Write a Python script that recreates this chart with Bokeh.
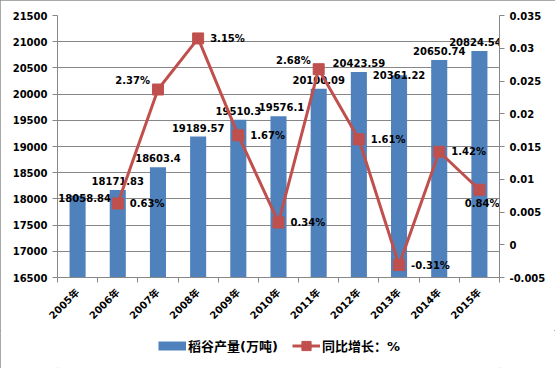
import math
from bokeh.plotting import figure
from bokeh.layouts import column
from bokeh.models import (Range1d, LinearAxis, FixedTicker, Legend, LegendItem,
                          ColumnDataSource, CustomJSTickFormatter)
from bokeh.core.properties import value
from bokeh.embed import file_html
from bokeh.resources import INLINE

# ---- data ----
years = ["2005年", "2006年", "2007年", "2008年", "2009年", "2010年",
         "2011年", "2012年", "2013年", "2014年", "2015年"]
rice_output = [18058.84, 18171.83, 18603.4, 19189.57, 19510.3, 19576.1,
               20100.09, 20423.59, 20361.22, 20650.74, 20824.54]
growth_years = ["2006年", "2007年", "2008年", "2009年", "2010年",
                "2011年", "2012年", "2013年", "2014年", "2015年"]
growth_pct = [0.63, 2.37, 3.15, 1.67, 0.34, 2.68, 1.61, -0.31, 1.42, 0.84]
left_ticks = [16500, 17000, 17500, 18000, 18500, 19000, 19500, 20000, 20500, 21000, 21500]
right_ticks = [-0.005, 0, 0.005, 0.01, 0.015, 0.02, 0.025, 0.03, 0.035]
legend_labels = ["稻谷产量(万吨)", "同比增长：%"]

# ---- label styling (not data) ----
bar_label_lift = [-2, 9, 9, 9, 9, 9, 9, 9, 0, 9, 9]
bar_label_shift = [7, 0, 0, 0, 0, 3, 0, 0, 0, 0, -4]
pct_label_pos = ["right", "left", "right", "right", "right",
                 "left", "right", "right", "right", "below"]

BAR = "#4F81BD"
RED = "#C0504D"
GRID = "#878787"
FONT = "DejaVu Sans, 'Noto Sans CJK SC'"

xi = list(range(len(years)))
gx = [years.index(y) for y in growth_years]
gfrac = [v / 100.0 for v in growth_pct]

p = figure(width=555, height=330,
           x_range=Range1d(-0.5, len(years) - 0.5),
           y_range=Range1d(left_ticks[0], left_ticks[-1]),
           output_backend="svg", toolbar_location=None,
           min_border_left=57, min_border_right=56,
           min_border_top=15, min_border_bottom=53)
p.extra_y_ranges = {"pct": Range1d(right_ticks[0], right_ticks[-1])}
p.outline_line_color = None
p.background_fill_color = "white"
p.border_fill_color = "white"

p.xgrid.visible = False
p.ygrid.grid_line_color = GRID
p.ygrid.ticker = FixedTicker(ticks=left_ticks)

# x axis
xa = p.xaxis[0]
xa.ticker = FixedTicker(ticks=xi, minor_ticks=[i - 0.5 for i in range(len(years) + 1)])
xa.formatter = CustomJSTickFormatter(args=dict(labels=years),
                                     code="const k = Math.round(tick); return labels[k] || '';")
xa.major_tick_line_color = None
xa.major_tick_out = 0
xa.major_tick_in = 0
xa.minor_tick_out = 5
xa.minor_tick_in = 0
xa.minor_tick_line_color = GRID
xa.axis_line_color = GRID
xa.major_label_orientation = math.pi / 4
xa.major_label_standoff = 8
xa.major_label_text_font = FONT
xa.major_label_text_font_style = "bold"
xa.major_label_text_font_size = "10px"
xa.major_label_text_color = "black"

# left axis
ya = p.yaxis[0]
ya.ticker = FixedTicker(ticks=left_ticks)
ya.minor_tick_line_color = None
ya.major_tick_out = 5
ya.major_tick_in = 0
ya.major_tick_line_color = GRID
ya.axis_line_color = GRID
ya.major_label_standoff = 5
ya.major_label_text_font = FONT
ya.major_label_text_font_style = "bold"
ya.major_label_text_font_size = "10px"
ya.major_label_text_color = "black"

# right axis
ra = LinearAxis(y_range_name="pct", ticker=FixedTicker(ticks=right_ticks),
                formatter=CustomJSTickFormatter(code="""
                    let s = tick.toFixed(3).replace(/0+$/, '').replace(/\\.$/, '');
                    if (s === '-0') s = '0';
                    return s;"""))
ra.minor_tick_line_color = None
ra.major_tick_out = 5
ra.major_tick_in = 0
ra.major_tick_line_color = GRID
ra.axis_line_color = GRID
ra.major_label_standoff = 5
ra.major_label_text_font = FONT
ra.major_label_text_font_style = "bold"
ra.major_label_text_font_size = "10px"
ra.major_label_text_color = "black"
p.add_layout(ra, "right")

# bars
bar_src = ColumnDataSource(dict(x=xi, top=rice_output,
                                lbl=[str(v) for v in rice_output],
                                yoff=[-v for v in bar_label_lift],
                                xoff=bar_label_shift))
p.vbar(x="x", top="top", bottom=left_ticks[0], width=0.4,
       fill_color=BAR, line_color=None, source=bar_src)
p.text(x="x", y="top", text="lbl", x_offset="xoff", y_offset="yoff", source=bar_src,
       text_align="center", text_baseline="alphabetic",
       text_font=value(FONT), text_font_style="bold", text_font_size="10px",
       text_color="black")

# growth line
p.line(gx, gfrac, y_range_name="pct", line_color=RED, line_width=3)
p.scatter(gx, gfrac, y_range_name="pct", marker="square", size=11,
          fill_color=RED, line_color=RED)

def pick(seq, pos):
    return [s for s, q in zip(seq, pct_label_pos) if q == pos]

pct_text = [f"{v:.2f}%" for v in growth_pct]
common = dict(y_range_name="pct", text_font=value(FONT), text_font_style="bold",
              text_font_size="10px", text_color="black", text_baseline="middle")
p.text(x=pick(gx, "right"), y=pick(gfrac, "right"), text=pick(pct_text, "right"),
       x_offset=12, text_align="left", **common)
p.text(x=pick(gx, "left"), y=pick(gfrac, "left"), text=pick(pct_text, "left"),
       x_offset=-8, y_offset=-9, text_align="right", **common)
p.text(x=pick(gx, "below"), y=pick(gfrac, "below"), text=pick(pct_text, "below"),
       x_offset=20, y_offset=14, text_align="right", **common)

# ---- legend strip (separate small figure under the chart) ----
# The key renderers reuse the series but lie outside this strip's ranges,
# so only their legend swatches are visible.
lf = figure(width=555, height=38, x_range=Range1d(-3, -2), y_range=Range1d(-3, -2),
            output_backend="svg", toolbar_location=None,
            min_border_left=0, min_border_right=0, min_border_top=0, min_border_bottom=0)
lf.axis.visible = False
lf.grid.visible = False
lf.outline_line_color = None
lf.background_fill_color = "white"
lf.border_fill_color = "white"
bar_key = lf.line(x=xi, y=rice_output, line_color=BAR, line_width=9, line_cap="butt")
line_key = lf.line(x=gx, y=gfrac, line_color=RED, line_width=3)
sq_key = lf.scatter(x=gx, y=gfrac, marker="square", size=11, fill_color=RED, line_color=RED)

legend = Legend(items=[LegendItem(label=legend_labels[0], renderers=[bar_key]),
                       LegendItem(label=legend_labels[1], renderers=[line_key, sq_key])],
                location=(101, 11), orientation="horizontal",
                glyph_width=28, glyph_height=23, label_height=23,
                label_standoff=2, spacing=14, padding=0, margin=0,
                border_line_color=None, background_fill_alpha=0,
                label_text_font=FONT, label_text_font_style="bold",
                label_text_font_size="13px", label_text_color="black")
lf.add_layout(legend, "center")

layout = column(p, lf, spacing=0,
                styles={"outline": "1px solid #8e8e8e", "outline-offset": "-1px"})

open("out.html", "w").write(file_html(layout, INLINE))
